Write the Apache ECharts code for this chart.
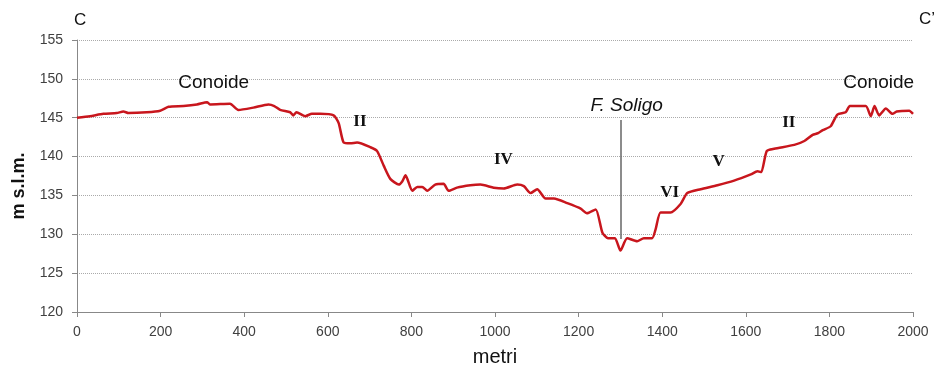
<!DOCTYPE html>
<html>
<head>
<meta charset="utf-8">
<script src="https://cdn.jsdelivr.net/npm/echarts@6/dist/echarts.min.js"></script>
<style>
  html, body { margin: 0; padding: 0; background: #fff; }
  #chart { width: 940px; height: 372px; }
</style>
</head>
<body>
<div id="chart"></div>
<script>
// Section C–C': ground elevation along the profile
const distance = [
  0, 31, 63, 95, 111, 123, 167, 199, 219, 255, 287, 311, 319, 366, 386, 422, 458, 472, 486,
  510, 517, 525, 546, 562, 582, 614, 626, 638, 654, 670, 702, 718, 734, 750, 770, 778, 786,
  802, 814, 826, 838, 857, 877, 889, 909, 941, 965, 997, 1021, 1053, 1069, 1085, 1101, 1121,
  1141, 1173, 1205, 1220, 1241, 1257, 1270, 1287, 1300, 1316, 1340, 1356, 1376, 1384, 1396,
  1420, 1444, 1460, 1492, 1532, 1572, 1612, 1628, 1637, 1650, 1668, 1716, 1740, 1760, 1772,
  1784, 1803, 1819, 1839, 1849, 1887, 1899, 1908, 1919, 1935, 1951, 1961, 1991, 2000
];
const elevation = [
  145.0, 145.2, 145.5, 145.6, 145.8, 145.6, 145.7, 145.9, 146.4, 146.5, 146.7, 147.0, 146.7, 146.8, 146.0, 146.3, 146.7, 146.5, 146.0,
  145.7, 145.3, 145.7, 145.2, 145.5, 145.5, 145.3, 144.3, 141.8, 141.7, 141.8, 141.2, 140.7, 138.8, 137.1, 136.4, 136.8, 137.6,
  135.6, 136.1, 136.1, 135.6, 136.4, 136.5, 135.6, 136.0, 136.3, 136.4, 136.0, 135.9, 136.4, 136.2, 135.3, 135.8, 134.6,
  134.6, 134.0, 133.3, 132.7, 133.2, 130.2, 129.5, 129.5, 127.9, 129.5, 129.1, 129.5, 129.5, 130.6, 132.8,
  132.8, 133.9, 135.3, 135.8, 136.3, 136.9, 137.7, 138.1, 138.0, 140.7, 141.0, 141.5, 142.0, 142.8, 143.0,
  143.4, 143.9, 145.4, 145.7, 146.5, 146.5, 145.2, 146.5, 145.3, 146.2, 145.5, 145.8, 145.9, 145.5
];

// Axis ranges and tick spacing
const xTicks = { min: 0, max: 2000, step: 200 };
const yTicks = { min: 120, max: 155, step: 5 };

// Terrace and place labels: [distance, elevation, text, kind]
const labels = [
  [327, 149.5, 'Conoide', 'place'],
  [1918, 149.5, 'Conoide', 'place'],
  [677, 144.5, 'II', 'terrace'],
  [1020, 139.6, 'IV', 'terrace'],
  [1418, 135.3, 'VI', 'terrace'],
  [1535, 139.4, 'V', 'terrace'],
  [1703, 144.4, 'II', 'terrace'],
  [1315, 146.5, 'F. Soligo', 'river']
];
// River axis marker
const riverX = 1300;
const riverSpan = [129.4, 144.7];

const chart = echarts.init(document.getElementById('chart'));

const labelStyle = {
  place: { fontFamily: 'Liberation Sans', fontSize: 19, color: '#111' },
  terrace: { fontFamily: 'Liberation Serif', fontSize: 17, fontWeight: 'bold', color: '#111' },
  river: { fontFamily: 'Liberation Sans', fontSize: 19, fontStyle: 'italic', color: '#111' }
};

chart.setOption({
  animation: false,
  backgroundColor: '#fff',
  grid: { left: 77, right: 27, top: 40, bottom: 59 },
  xAxis: {
    type: 'value',
    min: xTicks.min, max: xTicks.max, interval: xTicks.step,
    name: 'metri',
    nameLocation: 'middle',
    nameGap: 35,
    nameTextStyle: { fontFamily: 'Liberation Sans', fontSize: 20, color: '#111' },
    axisLine: { lineStyle: { color: '#888', width: 1 } },
    axisTick: { show: true, length: 5, lineStyle: { color: '#888' } },
    axisLabel: { fontFamily: 'Liberation Sans', fontSize: 14, color: '#404040', margin: 13, formatter: v => String(v) },
    splitLine: { show: false }
  },
  yAxis: {
    type: 'value',
    min: yTicks.min, max: yTicks.max, interval: yTicks.step,
    axisLine: { show: true, lineStyle: { color: '#888', width: 1 } },
    axisTick: { show: true, length: 5, lineStyle: { color: '#888' } },
    axisLabel: { fontFamily: 'Liberation Sans', fontSize: 14, color: '#404040', margin: 14, formatter: v => String(v) },
    splitLine: { show: true, lineStyle: { color: '#aaa', type: [1, 1], width: 1 } }
  },
  graphic: [
    { type: 'text', left: 74, top: 12, style: { text: 'C', fontFamily: 'Liberation Sans', fontSize: 17, fill: '#111' } },
    { type: 'text', right: 5, top: 11, style: { text: "C’", fontFamily: 'Liberation Sans', fontSize: 17, fill: '#111' } },
    {
      type: 'text', x: 19, y: 186, rotation: Math.PI / 2,
      style: { text: 'm s.l.m.', fontFamily: 'Liberation Sans', fontSize: 18, fontWeight: 'bold', fill: '#111', align: 'center', verticalAlign: 'middle' }
    }
  ],
  series: [
    {
      type: 'line',
      data: distance.map((d, i) => [d, elevation[i]]),
      showSymbol: false,
      smooth: 0.2,
      lineStyle: { color: '#c8161d', width: 2.5 },
      z: 3,
      markLine: {
        silent: true,
        symbol: ['none', 'none'],
        label: { show: false },
        lineStyle: { color: '#666', width: 1.5, type: 'solid' },
        data: [[{ coord: [riverX, riverSpan[0]] }, { coord: [riverX, riverSpan[1]] }]]
      },
      markPoint: {
        silent: true,
        symbol: 'circle',
        symbolSize: 0,
        itemStyle: { color: 'rgba(0,0,0,0)' },
        data: labels.map(l => ({
          coord: [l[0], l[1]],
          value: l[2],
          label: Object.assign({ show: true, formatter: l[2], position: 'inside' }, labelStyle[l[3]])
        }))
      }
    }
  ]
});
</script>
</body>
</html>
